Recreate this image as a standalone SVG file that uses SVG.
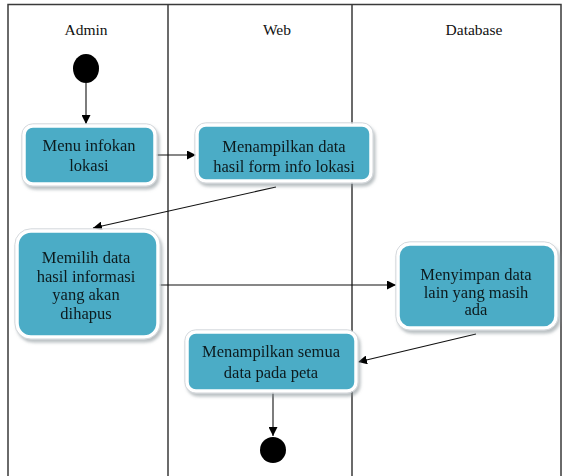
<svg xmlns="http://www.w3.org/2000/svg" width="562" height="476" viewBox="0 0 562 476">
<style>
.lane{stroke:#3a3a3a;stroke-width:1.5;fill:none}
.hdr{font-family:'Liberation Serif','Times New Roman',serif;font-size:15.5px;fill:#111;text-anchor:middle}
.box{fill:#4BACC6;stroke:#ffffff;stroke-width:3.5}
.edge{fill:none;stroke:#d4d8dc;stroke-width:1}
.lbl{font-family:'Liberation Serif','Times New Roman',serif;font-size:16.5px;fill:#0d1a1e;text-anchor:middle}
.conn{stroke:#111;stroke-width:1.1;fill:none;marker-end:url(#ah)}
.dot{fill:#000}
</style>
<defs>
<marker id="ah" viewBox="0 0 10 10" refX="10" refY="5" markerWidth="9" markerHeight="9" markerUnits="userSpaceOnUse" orient="auto">
<path d="M0,0 L10,5 L0,10 Z" fill="#000"/>
</marker>
<filter id="sh" x="-10%" y="-10%" width="125%" height="130%">
<feDropShadow dx="2" dy="3" stdDeviation="1.5" flood-color="#7f8a90" flood-opacity="0.55"/>
</filter>
</defs>
<rect x="0" y="0" width="562" height="476" fill="#ffffff"/>
<g id="lanes">
<path class="lane" d="M8,476 V4.5 H561 V476"/>
<line class="lane" x1="168" y1="4.5" x2="168" y2="476"/>
<line class="lane" x1="352" y1="4.5" x2="352" y2="476"/>
<text class="hdr" x="86" y="35">Admin</text>
<text class="hdr" x="277" y="35">Web</text>
<text class="hdr" x="474" y="35">Database</text>
</g>
<g id="connectors">
<line class="conn" x1="86" y1="83" x2="86" y2="124"/>
<line class="conn" x1="155" y1="155" x2="196" y2="155"/>
<line class="conn" x1="276" y1="187" x2="93" y2="228"/>
<line class="conn" x1="158" y1="285" x2="396" y2="285"/>
<line class="conn" x1="476" y1="334" x2="358" y2="362"/>
<line class="conn" x1="273" y1="392" x2="273" y2="436"/>
</g>
<g id="start">
<ellipse class="dot" cx="86" cy="68.5" rx="13" ry="14.5"/>
</g>
<g id="n1" filter="url(#sh)">
<rect class="box" x="24" y="126" width="131" height="58" rx="9"/>
<rect class="edge" x="21.8" y="123.8" width="135.4" height="62.4" rx="11"/>
<text class="lbl" x="89" y="151">Menu infokan</text>
<text class="lbl" x="89" y="171">lokasi</text>
</g>
<g id="n2" filter="url(#sh)">
<rect class="box" x="197" y="125" width="174" height="56" rx="9"/>
<rect class="edge" x="194.8" y="122.8" width="178.4" height="60.4" rx="11"/>
<text class="lbl" x="284" y="152">Menampilkan data</text>
<text class="lbl" x="284" y="172">hasil form info lokasi</text>
</g>
<g id="n3" filter="url(#sh)">
<rect class="box" x="17" y="231" width="141" height="106" rx="14"/>
<rect class="edge" x="14.8" y="228.8" width="145.4" height="110.4" rx="16"/>
<text class="lbl" x="86" y="263">Memilih data</text>
<text class="lbl" x="86" y="281.5">hasil informasi</text>
<text class="lbl" x="86" y="300">yang akan</text>
<text class="lbl" x="86" y="318.5">dihapus</text>
</g>
<g id="n4" filter="url(#sh)">
<rect class="box" x="398" y="244" width="158" height="84" rx="12"/>
<rect class="edge" x="395.8" y="241.8" width="162.4" height="88.4" rx="14"/>
<text class="lbl" x="476" y="280">Menyimpan data</text>
<text class="lbl" x="476" y="297.5">lain yang masih</text>
<text class="lbl" x="476" y="315">ada</text>
</g>
<g id="n5" filter="url(#sh)">
<rect class="box" x="187" y="332" width="169" height="59" rx="9"/>
<rect class="edge" x="184.8" y="329.8" width="173.4" height="63.4" rx="11"/>
<text class="lbl" x="271" y="357">Menampilkan semua</text>
<text class="lbl" x="271" y="378">data pada peta</text>
</g>
<g id="end">
<circle class="dot" cx="273" cy="450" r="13"/>
</g>
</svg>
